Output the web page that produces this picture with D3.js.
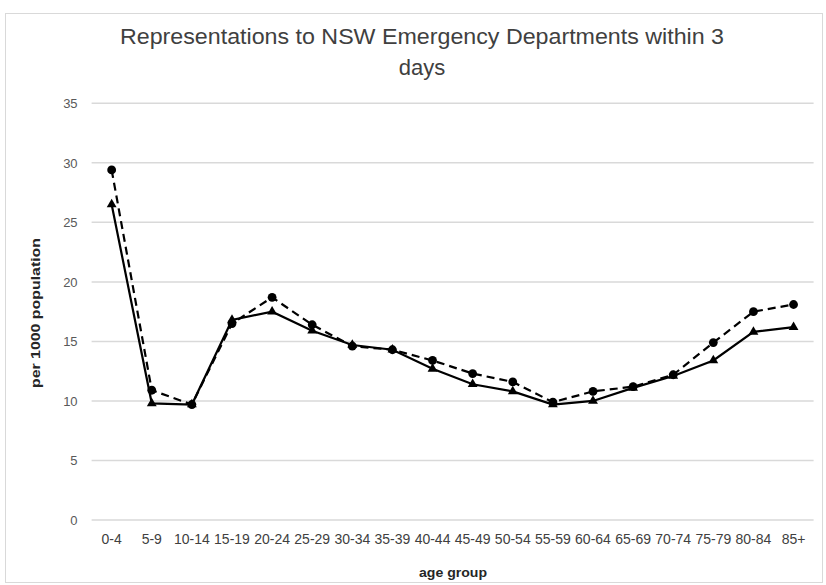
<!DOCTYPE html>
<html><head><meta charset="utf-8">
<script src="https://cdn.jsdelivr.net/npm/d3@7"></script>
<style>body{margin:0;background:#fff}svg{display:block}</style>
</head><body>
<svg id="c" width="826" height="585"></svg>
<script>
const categories = ["0-4","5-9","10-14","15-19","20-24","25-29","30-34","35-39","40-44","45-49","50-54","55-59","60-64","65-69","70-74","75-79","80-84","85+"];
const circleSeries = [29.4,10.9,9.7,16.5,18.7,16.4,14.6,14.3,13.4,12.3,11.6,9.9,10.8,11.2,12.2,14.9,17.5,18.1];
const triangleSeries = [26.5,9.8,9.7,16.8,17.5,15.9,14.7,14.3,12.7,11.4,10.8,9.7,10.0,11.1,12.1,13.4,15.8,16.2];
const yTicks = [0,5,10,15,20,25,30,35];
const titleLines = ["Representations to NSW Emergency Departments within 3","days"];

(function(){
const svg = d3.select("#c");
const font = "'Liberation Sans','Arial',sans-serif";
svg.append("rect").attr("x",5.5).attr("y",13.5).attr("width",817).attr("height",569)
  .attr("fill","#fff").attr("stroke","#d9d9d9");

const pL = 91.6, pR = 813.6, pT = 103.3, pB = 520;
const x = d3.scaleBand().domain(categories).range([pL,pR]);
const y = d3.scaleLinear().domain([0,35]).range([pB,pT]);

const grid = svg.append("g");
grid.selectAll("line").data(yTicks).join("line")
  .attr("x1",pL).attr("x2",pR).attr("y1",d=>y(d)).attr("y2",d=>y(d))
  .attr("stroke","#d9d9d9").attr("stroke-width",1.5);

const yAxis = svg.append("g").attr("transform",`translate(${pL-14},0)`)
  .call(d3.axisLeft(y).tickValues(yTicks).tickSize(0).tickPadding(0));
yAxis.select(".domain").remove();
yAxis.selectAll("text").attr("font-family",font).attr("font-size",13).attr("fill","#595959");

const xAxis = svg.append("g").attr("transform",`translate(0,${pB+14})`)
  .call(d3.axisBottom(x).tickSize(0).tickPadding(0));
xAxis.select(".domain").remove();
xAxis.selectAll("text").attr("font-family",font).attr("font-size",14).attr("fill","#404040").attr("dy","0.71em");

svg.append("g").selectAll("text").data(titleLines).join("text")
  .attr("x",422).attr("y",(d,i)=>44+i*31).attr("text-anchor","middle")
  .attr("font-family",font).attr("font-size",22).attr("fill","#404040")
  .each(function(d,i){ if(i===0) d3.select(this).attr("textLength",604).attr("lengthAdjust","spacingAndGlyphs"); })
  .text(d=>d);

svg.append("text").attr("transform","translate(40,313) rotate(-90)").attr("text-anchor","middle")
  .attr("font-family",font).attr("font-weight","bold").attr("font-size",13).attr("fill","#262626")
  .attr("textLength",150).attr("lengthAdjust","spacingAndGlyphs")
  .text("per 1000 population");
svg.append("text").attr("x",453).attr("y",577).attr("text-anchor","middle")
  .attr("font-family",font).attr("font-weight","bold").attr("font-size",13).attr("fill","#262626")
  .attr("textLength",68).attr("lengthAdjust","spacingAndGlyphs")
  .text("age group");

const cx = d => x(d) + x.bandwidth()/2;
const line = d3.line().x((d,i)=>cx(categories[i])).y(d=>y(d));

svg.append("path").datum(circleSeries).attr("d",line).attr("fill","none")
  .attr("stroke","#000").attr("stroke-width",2.2).attr("stroke-dasharray","8,5");
svg.append("path").datum(triangleSeries).attr("d",line).attr("fill","none")
  .attr("stroke","#000").attr("stroke-width",2.2);

svg.append("g").selectAll("path").data(triangleSeries).join("path")
  .attr("d",d3.symbol(d3.symbolTriangle,42))
  .attr("transform",(d,i)=>`translate(${cx(categories[i])},${y(d)})`).attr("fill","#000");
svg.append("g").selectAll("circle").data(circleSeries).join("circle")
  .attr("cx",(d,i)=>cx(categories[i])).attr("cy",d=>y(d)).attr("r",4.4).attr("fill","#000");
})();
</script>
</body></html>
